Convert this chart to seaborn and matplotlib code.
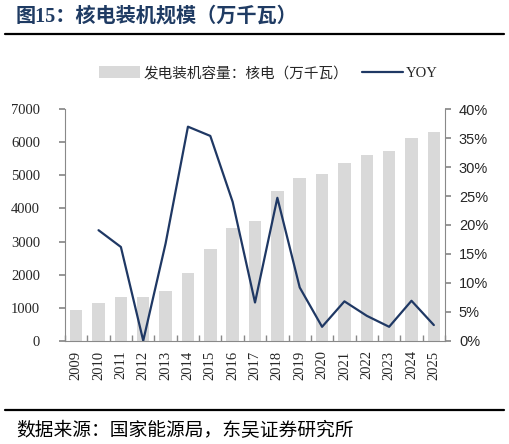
import matplotlib
matplotlib.use("Agg")
import matplotlib.pyplot as plt
import seaborn as sns
import numpy as np
import pandas as pd
from matplotlib.patches import Patch
from matplotlib.lines import Line2D
from matplotlib.ticker import FuncFormatter

years = ["2009", "2010", "2011", "2012", "2013", "2014", "2015", "2016", "2017",
         "2018", "2019", "2020", "2021", "2022", "2023", "2024", "2025"]
capacity = [930, 1130, 1310, 1310, 1510, 2055, 2765, 3415, 3630,
            4525, 4930, 5040, 5385, 5605, 5745, 6130, 6300]
yoy = [np.nan, 19.1, 16.2, 0.0, 16.8, 37.0, 35.4, 24.0, 6.6,
       24.7, 9.2, 2.4, 6.8, 4.3, 2.4, 6.9, 2.7]
left_ticks = [0, 1000, 2000, 3000, 4000, 5000, 6000, 7000]
right_ticks = [0, 5, 10, 15, 20, 25, 30, 35, 40]

title = "图15：核电装机规模（万千瓦）"
bar_label = "发电装机容量：核电（万千瓦）"
line_label = "YOY"
source = "数据来源：国家能源局，东吴证券研究所"

sns.set_theme(style="white")
plt.rcParams['font.family'] = ['Liberation Serif', 'Noto Sans CJK SC', 'DejaVu Sans']

BAR_C = "#d9d9d9"
LINE_C = "#1f3864"
GRAY = "#898989"

df = pd.DataFrame({"year": years, "cap": capacity, "yoy": yoy})
df["pos"] = np.arange(len(years))

fig = plt.figure(figsize=(5.09, 4.44), dpi=100)
ax = fig.add_axes([0.1277, 0.2327, 0.7466, 0.5211])
sns.barplot(data=df, x="year", y="cap", color=BAR_C, width=0.56, ax=ax,
            saturation=1, edgecolor="none")
ax.set_xlim(-0.5, len(years) - 0.5)
ax.set_ylim(0, 7000)
ax.set_yticks(left_ticks)
ax.set_xlabel("")
ax.set_ylabel("")
for s in ["top", "right"]:
    ax.spines[s].set_visible(False)
for s in ["left", "bottom"]:
    ax.spines[s].set_color(GRAY)
    ax.spines[s].set_linewidth(0.8)
ax.tick_params(axis="y", which="major", direction="out", length=4, color=GRAY,
               labelsize=10.5, pad=14, left=True)
ax.tick_params(axis="x", which="major", length=0, labelsize=10.5, pad=7,
               labelrotation=90)
ax.set_xticks(np.arange(-0.5, len(years)), minor=True)
ax.tick_params(axis="x", which="minor", direction="in", length=4, color=GRAY,
               bottom=True)
for lab in ax.get_xticklabels() + ax.get_yticklabels():
    lab.set_fontfamily(['Liberation Serif'])

ax2 = ax.twinx()
sns.lineplot(data=df.dropna(), x="pos", y="yoy", color=LINE_C, linewidth=1.6, ax=ax2)
ax2.set_ylim(0, 40)
ax2.set_yticks(right_ticks)
ax2.yaxis.set_major_formatter(FuncFormatter(lambda v, p: f"{int(v)}%"))
ax2.set_xlabel("")
ax2.set_ylabel("")
ax2.set_xlim(-0.5, len(years) - 0.5)
for s in ["top", "left", "bottom"]:
    ax2.spines[s].set_visible(False)
ax2.spines["right"].set_color(GRAY)
ax2.spines["right"].set_linewidth(0.8)
ax2.tick_params(axis="y", direction="out", length=4, color=GRAY, labelsize=10.5,
                pad=6, right=True)
for lab in ax2.get_yticklabels():
    lab.set_fontfamily(['Liberation Sans'])

handles = [Patch(facecolor=BAR_C, edgecolor="none", label=bar_label),
           Line2D([0], [0], color=LINE_C, linewidth=1.6, label=line_label)]
fig.legend(handles=handles, loc="center", bbox_to_anchor=(0.528, 0.835), ncol=2,
           frameon=False, handlelength=2.8, handleheight=0.9,
           columnspacing=1.0, handletextpad=0.2,
           prop={'family': ['Liberation Serif', 'Noto Sans CJK SC'], 'size': 10.5})

fig.text(0.03, 0.962, title, fontsize=14.5, fontweight="bold", color="#1f3b63",
         family=['Liberation Serif', 'Noto Sans CJK SC'], va="center", ha="left")
fig.add_artist(Line2D([0.01, 0.99], [0.923, 0.923], color="black", linewidth=1.6,
                      transform=fig.transFigure))
fig.add_artist(Line2D([0.01, 0.99], [0.077, 0.077], color="black", linewidth=1.6,
                      transform=fig.transFigure))
fig.text(0.032, 0.031, source, fontsize=13.5, color="black",
         family=['Noto Sans CJK SC'], va="center", ha="left")

fig.savefig("out.png", dpi=100)
